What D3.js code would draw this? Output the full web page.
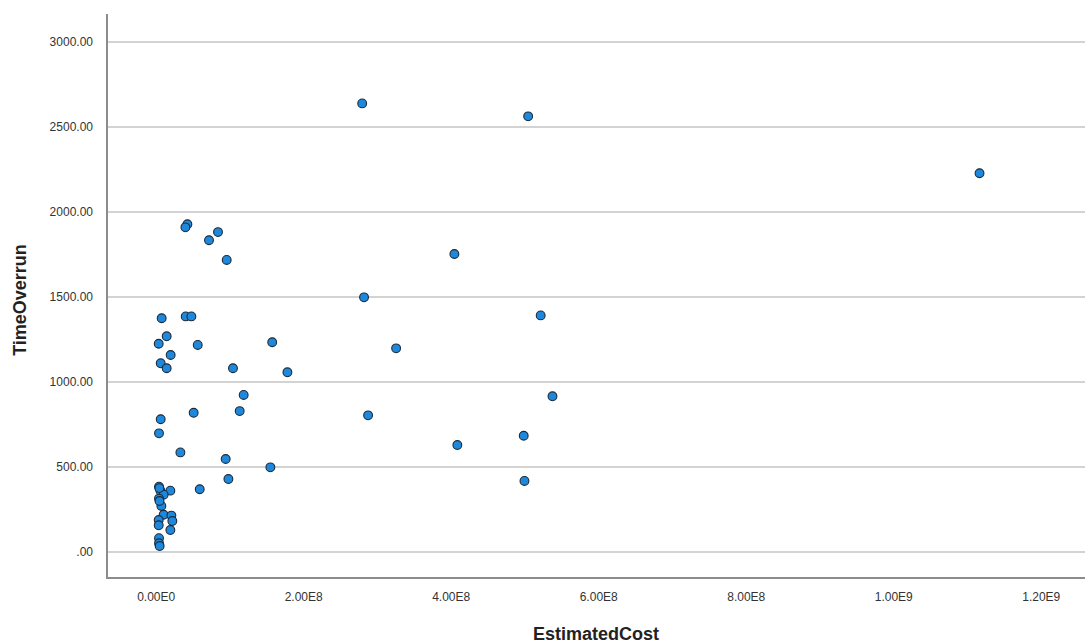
<!DOCTYPE html>
<html>
<head>
<meta charset="utf-8">
<script src="https://cdn.jsdelivr.net/npm/d3@7"></script>
<style>
  body { margin: 0; background: #fff; }
  text { font-family: "Liberation Sans", Arial, sans-serif; }
</style>
</head>
<body>
<div id="chart"></div>
<script>
// values
const estimatedCost = [
  4.3e7, 4.03e7, 8.45e7, 7.23e7, 9.63e7, 8.1e6, 4.07e7, 4.84e7, 1.49e7, 4.1e6,
  5.7e7, 2.03e7, 6.8e6, 1.49e7, 1.048e8, 1.193e8, 1.139e8, 5.15e7, 6.8e6, 4.5e6,
  3.35e7, 9.49e7, 9.86e7, 5.97e7, 4.5e6, 6.4e6, 1.99e7, 1.08e7, 4.5e6, 7.7e6,
  1.08e7, 2.13e7, 2.26e7, 4.1e6, 4.1e6, 1.99e7, 4.5e6, 4.5e6, 5.4e6, 5.0e6,
  5.2e6, 1.555e8, 1.58e8, 1.786e8, 2.80e8, 2.825e8, 2.88e8, 3.26e8, 4.05e8, 4.09e8,
  4.99e8, 5.0e8, 5.05e8, 5.22e8, 5.38e8, 1.117e9
];
const timeOverrun = [
  1928, 1910, 1882, 1834, 1718, 1375, 1386, 1386, 1269, 1225,
  1218, 1159, 1110, 1081, 1081, 924, 829, 819, 781, 698,
  586, 547, 429, 369, 384, 361, 361, 337, 314, 271,
  219, 214, 182, 188, 157, 129, 81, 51, 35, 376,
  300, 498, 1234, 1057, 2639, 1498, 804, 1198, 1753, 629,
  684, 418, 2563, 1392, 916, 2228
];
const xTicks = [0, 2e8, 4e8, 6e8, 8e8, 1e9, 1.2e9];
const yTicks = [0, 500, 1000, 1500, 2000, 2500, 3000];
const xDomain = [-0.66e8, 1.26e9];
const yDomain = [-153, 3165];

const W = 1085, H = 644;
const plot = { left: 107, right: 1085, top: 14, bottom: 578 };

const svg = d3.select('#chart')
  .append('svg')
  .attr('width', W)
  .attr('height', H);

const xScale = d3.scaleLinear().domain(xDomain).range([plot.left, plot.right]);
const yScale = d3.scaleLinear().domain(yDomain).range([plot.bottom, plot.top]);

// gridlines
svg.append('g')
  .selectAll('line')
  .data(yTicks)
  .join('line')
  .attr('x1', plot.left)
  .attr('x2', plot.right)
  .attr('y1', (d) => yScale(d))
  .attr('y2', (d) => yScale(d))
  .attr('stroke', '#c4c4c4')
  .attr('stroke-width', 1.5);

// y axis
const yAxis = d3.axisLeft(yScale)
  .tickValues(yTicks)
  .tickSize(0)
  .tickPadding(14)
  .tickFormat((d) => (d === 0 ? '.00' : d3.format('.2f')(d)));
const yAxisGroup = svg.append('g')
  .attr('transform', 'translate(' + plot.left + ',0)')
  .call(yAxis);
yAxisGroup.select('.domain').remove();
yAxisGroup.selectAll('text')
  .style('font-size', '12px')
  .attr('fill', '#333');

// x axis
const xAxis = d3.axisBottom(xScale)
  .tickValues(xTicks)
  .tickSize(0)
  .tickPadding(14)
  .tickFormat((d) => d.toExponential(2).toUpperCase().replace('+', ''));
const xAxisGroup = svg.append('g')
  .attr('transform', 'translate(0,' + plot.bottom + ')')
  .call(xAxis);
xAxisGroup.select('.domain').remove();
xAxisGroup.selectAll('text')
  .style('font-size', '12px')
  .attr('fill', '#333');

// axis frame lines
svg.append('line')
  .attr('x1', plot.left).attr('x2', plot.left)
  .attr('y1', plot.top).attr('y2', plot.bottom)
  .attr('stroke', '#8c8c8c').attr('stroke-width', 2);
svg.append('line')
  .attr('x1', plot.left - 1).attr('x2', plot.right)
  .attr('y1', plot.bottom).attr('y2', plot.bottom)
  .attr('stroke', '#8c8c8c').attr('stroke-width', 2);

// points
const points = estimatedCost.map((c, i) => [c, timeOverrun[i]]);
svg.append('g')
  .selectAll('circle')
  .data(points)
  .join('circle')
  .attr('cx', (d) => xScale(d[0]))
  .attr('cy', (d) => yScale(d[1]))
  .attr('r', 4.4)
  .attr('fill', '#1e88dc')
  .attr('stroke', '#1b2b3b')
  .attr('stroke-width', 1.1);

// axis titles
svg.append('text')
  .text('EstimatedCost')
  .attr('x', 596)
  .attr('y', 640)
  .attr('text-anchor', 'middle')
  .style('font-size', '18px')
  .style('font-weight', 'bold')
  .attr('fill', '#222');

svg.append('text')
  .text('TimeOverrun')
  .attr('transform', 'translate(26,300) rotate(-90)')
  .attr('text-anchor', 'middle')
  .style('font-size', '18px')
  .style('font-weight', 'bold')
  .attr('fill', '#222');
</script>
</body>
</html>
